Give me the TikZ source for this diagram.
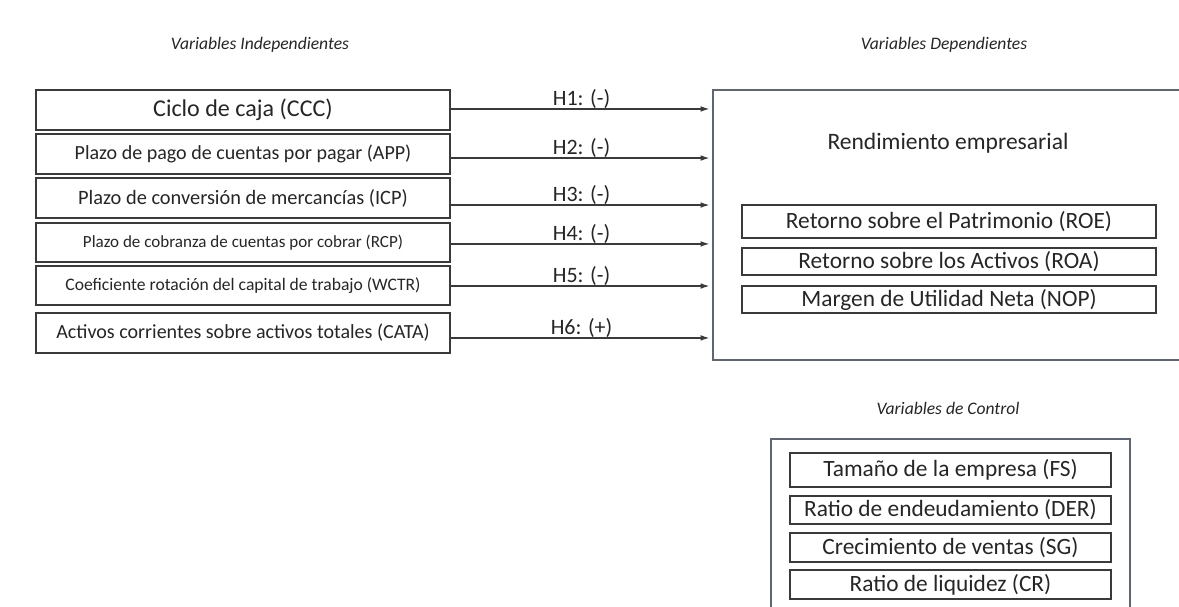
\documentclass[tikz,border=0pt]{standalone}
\usepackage{fontspec}
\setmainfont{Carlito}
\usetikzlibrary{arrows.meta}

\definecolor{boxline}{HTML}{3A3A3A}
\definecolor{frameline}{HTML}{5E6675}
\definecolor{txt}{HTML}{262626}

\begin{document}
\begin{tikzpicture}[x=0.02cm,y=-0.02cm,text=txt,
  varbox/.style={draw=boxline,line width=0.8pt,minimum width=8.28cm,inner sep=0pt},
  depbox/.style={draw=boxline,line width=0.8pt,minimum width=8.28cm,inner sep=0pt,font=\fontsize{13.3}{15}\selectfont},
  ctrlbox/.style={draw=boxline,line width=0.8pt,minimum width=6.42cm,inner sep=0pt,font=\fontsize{13.3}{15}\selectfont},
  frame/.style={draw=frameline,line width=0.7pt,inner sep=0pt},
  header/.style={font=\itshape\fontsize{10}{12}\selectfont},
  hyp/.style={draw=boxline,line width=0.7pt,-{Latex[length=5pt,width=3.2pt]},shorten >=1.7pt},
  hlabel/.style={font=\fontsize{12.5}{14}\selectfont,inner sep=0pt}]
\useasboundingbox (0,0) rectangle (1179,606);
\fill[white] (0,0) rectangle (1179,606);
\clip (0,0) rectangle (1179,606);

% titulos
\node[header] (indep) at (260,45) {Variables Independientes};
\node[header] (dep) at (944,45) {Variables Dependientes};
\node[header] (ctrltitle) at (948,408) {Variables de Control};

% variables independientes
\node[varbox,minimum height=0.8cm,font=\fontsize{13.7}{15}\selectfont] (ccc) at (243,110) {Ciclo de caja (CCC)};
\node[varbox,minimum height=0.8cm,font=\fontsize{11.4}{13}\selectfont] (app) at (243,154) {Plazo de pago de cuentas por pagar (APP)};
\node[varbox,minimum height=0.8cm,font=\fontsize{11.6}{13}\selectfont] (icp) at (243,198) {Plazo de conversión de mercancías (ICP)};
\node[varbox,minimum height=0.78cm,font=\fontsize{9.7}{11}\selectfont] (rcp) at (243,242.5) {Plazo de cobranza de cuentas por cobrar (RCP)};
\node[varbox,minimum height=0.78cm,font=\fontsize{10}{12}\selectfont] (wctr) at (243,285.5) {Coeficiente rotación del capital de trabajo (WCTR)};
\node[varbox,minimum height=0.8cm,font=\fontsize{11.4}{13}\selectfont] (cata) at (243,333) {Activos corrientes sobre activos totales (CATA)};

% variables dependientes
\node[frame,minimum width=9.64cm,minimum height=5.4cm] (rend) at (954,225) {};
\node[font=\fontsize{13.4}{15}\selectfont] (rendtitle) at (948,143) {Rendimiento empresarial};
\node[depbox,minimum height=0.66cm] (roe) at (949,221.5) {Retorno sobre el Patrimonio (ROE)};
\node[depbox,minimum height=0.54cm] (roa) at (949,261.5) {Retorno sobre los Activos (ROA)};
\node[depbox,minimum height=0.54cm] (nop) at (949,299.5) {Margen de Utilidad Neta (NOP)};

% variables de control
\node[frame,minimum width=7.18cm,minimum height=4.22cm] (ctrl) at (950.5,544.5) {};
\node[ctrlbox,minimum height=0.68cm] (fs) at (950.5,470) {Tamaño de la empresa (FS)};
\node[ctrlbox,minimum height=0.56cm] (der) at (950.5,510) {Ratio de endeudamiento (DER)};
\node[ctrlbox,minimum height=0.58cm] (sg) at (950.5,547.5) {Crecimiento de ventas (SG)};
\node[ctrlbox,minimum height=0.58cm] (cr) at (950.5,584.5) {Ratio de liquidez (CR)};

% hipotesis
\foreach \src/\dy/\lbl in {ccc/0.6pt/H1: (-),app/-2.3pt/H2: (-),icp/-4pt/H3: (-),rcp/-0.8pt/H4: (-),wctr/-0.3pt/H5: (-),cata/-2.8pt/H6: (+)}{
  \draw[hyp] ([yshift=\dy]\src.east) -- ([yshift=\dy]\src.east -| rend.west) node[midway,above,hlabel] {\lbl};
}
\end{tikzpicture}
\end{document}
